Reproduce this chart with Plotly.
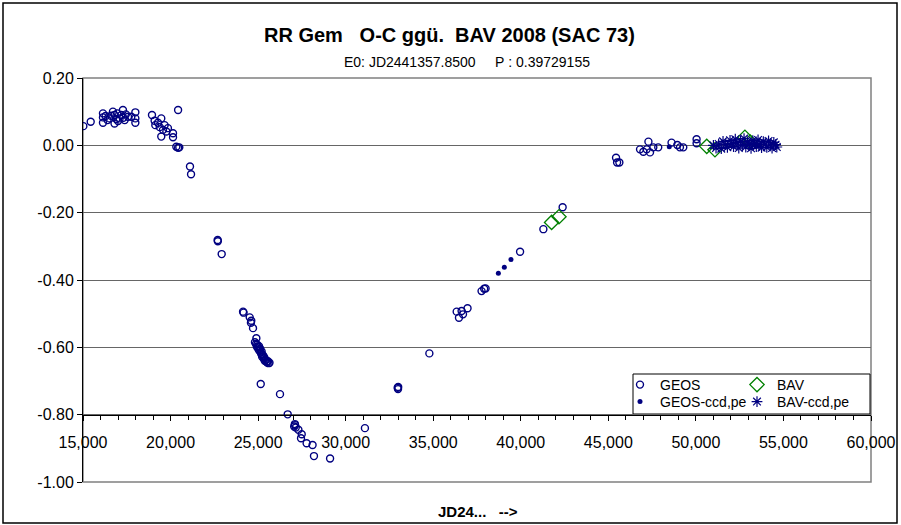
import plotly.graph_objects as go

# ---------------- data ----------------
geos_x = [15020, 15440, 16140, 16140, 16140, 16290, 16400, 16520, 16600, 16710, 16800, 16800,
          16900, 16960, 17000, 17090, 17190, 17280, 17300, 17380, 17450, 17570, 17760, 17990,
          17990, 17990, 18940, 19090, 19130, 19280, 19380, 19470, 19570, 19660, 19760, 19470,
          19850, 20140, 20140, 20430, 20330, 20430, 20500, 21110, 21170,
          22690, 22700, 22920, 24140, 24170, 24520, 24610, 24590, 24710, 24900,
          24820, 24880, 24950, 24930, 25000, 25050, 25020, 25080, 25120, 25150, 25200, 25180,
          25250, 25230, 25300, 25320, 25350, 25400, 25380, 25450, 25480, 25520, 25560, 25600,
          25650, 25150, 26250, 26690, 27110, 27060, 27150, 27100, 27300, 27490, 27450, 27770,
          28110, 28190, 29110, 31100, 32970, 32990, 33000, 34780, 36340, 36470, 36620, 36700,
          36960, 37760, 37910, 37990, 39960, 41290, 42390, 45440, 45500, 45630, 46810, 47000,
          47190, 47290, 47380, 47570, 47850, 48610, 48940, 49090, 49280, 50040, 50040]
geos_y = [0.057, 0.070, 0.095, 0.083, 0.067, 0.087, 0.075, 0.080, 0.088, 0.100, 0.090, 0.065,
          0.078, 0.095, 0.072, 0.080, 0.090, 0.105, 0.082, 0.075, 0.092, 0.085, 0.085, 0.098,
          0.080, 0.067, 0.090, 0.073, 0.060, 0.067, 0.054, 0.080, 0.046, 0.060, 0.041, 0.026,
          0.051, 0.036, 0.024, 0.105, -0.004, -0.007, -0.006, -0.063, -0.086,
          -0.281, -0.285, -0.323, -0.494, -0.497, -0.511, -0.521, -0.527, -0.543, -0.573,
          -0.585, -0.590, -0.592, -0.598, -0.600, -0.597, -0.606, -0.610, -0.604, -0.615, -0.612, -0.620,
          -0.622, -0.628, -0.626, -0.633, -0.630, -0.636, -0.640, -0.638, -0.643, -0.645, -0.641, -0.647,
          -0.646, -0.709, -0.739, -0.799, -0.831, -0.835, -0.838, -0.828, -0.845, -0.858, -0.870, -0.885,
          -0.890, -0.923, -0.930, -0.840, -0.720, -0.724, -0.718, -0.618, -0.494, -0.512, -0.492, -0.502,
          -0.484, -0.433, -0.426, -0.425, -0.316, -0.249, -0.184, -0.037, -0.051, -0.051, -0.012, -0.019,
          -0.012, 0.011, -0.021, -0.006, -0.006, 0.008, 0.001, -0.006, -0.006, 0.018, 0.006]

geos_ccd_x = [38720, 39060, 39440, 48480]
geos_ccd_y = [-0.380, -0.362, -0.339, -0.004]

bav_x = [41760, 42180, 50620, 51090, 52800, 53100]
bav_y = [-0.229, -0.212, -0.003, -0.013, 0.024, 0.010]

bav_ccd_x = [51000, 51150, 51300, 51450, 51550, 51700, 51800, 51950, 52050, 52150, 52250, 52350,
             52450, 52550, 52650, 52750, 52850, 52950, 53050, 53150, 53250, 53350, 53450, 53550,
             53650, 53750, 53850, 53950, 54050, 54150, 54250, 54350, 54450, 54550, 54620]
bav_ccd_y = [0.000, -0.008, 0.004, -0.010, 0.012, 0.002, -0.006, 0.015, 0.005, -0.004, 0.018, 0.008,
             -0.008, 0.012, 0.001, 0.020, -0.005, 0.010, 0.003, -0.009, 0.014, 0.006, -0.004, 0.016,
             0.002, -0.007, 0.011, 0.004, -0.006, 0.013, 0.001, -0.008, 0.009, 0.002, -0.005]

y_ticks = [0.20, 0.00, -0.20, -0.40, -0.60, -0.80, -1.00]
y_tick_labels = ["0.20", "0.00", "-0.20", "-0.40", "-0.60", "-0.80", "-1.00"]
x_ticks = [15000, 20000, 25000, 30000, 35000, 40000, 45000, 50000, 55000, 60000]
x_tick_labels = ["15,000", "20,000", "25,000", "30,000", "35,000", "40,000",
                 "45,000", "50,000", "55,000", "60,000"]

title_text = "RR Gem\u00a0\u00a0\u00a0O-C ggü.\u00a0\u00a0BAV 2008 (SAC 73)"
subtitle_text = "E0: JD2441357.8500\u00a0\u00a0\u00a0\u00a0\u00a0P\u00a0: 0.39729155"
xtitle_text = "JD24...\u00a0\u00a0\u00a0-->"

# ---------------- figure ----------------
NAVY = "#000080"
GREEN = "#008000"
FONT = "Liberation Sans, Arial, sans-serif"

fig = go.Figure()
fig.add_trace(go.Scatter(x=geos_x, y=geos_y, mode="markers", name="GEOS", legend="legend",
                         marker=dict(symbol="circle-open", size=7, color=NAVY, line=dict(width=1.4))))
fig.add_trace(go.Scatter(x=geos_ccd_x, y=geos_ccd_y, mode="markers", name="GEOS-ccd,pe", legend="legend2",
                         marker=dict(symbol="circle", size=5, color=NAVY)))
fig.add_trace(go.Scatter(x=bav_x, y=bav_y, mode="markers", name="BAV", legend="legend3",
                         marker=dict(symbol="diamond-open", size=11, color=GREEN, line=dict(width=1.3))))
fig.add_trace(go.Scatter(x=bav_ccd_x, y=bav_ccd_y, mode="markers", name="BAV-ccd,pe", legend="legend4",
                         marker=dict(symbol="asterisk-open", size=9, color=NAVY, line=dict(width=1.2, color=NAVY))))

L, R, T, B = 83, 30, 78, 43
W, H = 901, 525
pw, ph = W - L - R, H - T - B


def px_x(p):
    return (p - L) / pw


def px_y(p):
    return (H - B - p) / ph


def leg(xp, yc):
    return dict(x=px_x(xp), y=px_y(yc), xanchor="left", yanchor="middle",
                bgcolor="rgba(0,0,0,0)", borderwidth=0, font=dict(size=14, family=FONT),
                itemwidth=30, tracegroupgap=0, orientation="v")


fig.update_layout(
    width=W, height=H,
    margin=dict(l=L, r=R, t=T, b=B, autoexpand=False),
    paper_bgcolor="white", plot_bgcolor="white",
    font=dict(family=FONT, size=16, color="black"),
    showlegend=True,
    legend=leg(620, 385),
    legend2=leg(620, 402),
    legend3=leg(737, 385),
    legend4=leg(737, 402),
    xaxis=dict(range=[15000, 60000], anchor="free", position=(-0.8 + 1.0) / 1.2,
               tickvals=x_ticks, ticktext=x_tick_labels, ticks="outside", ticklen=5,
               tickcolor="black", showline=True, linecolor="black", linewidth=1,
               showgrid=False, zeroline=False, ticklabelstandoff=8,
               tickfont=dict(size=16),
               minor=dict(dtick=1000, tick0=15000, ticks="outside", ticklen=4, tickcolor="black",
                          showgrid=False)),
    yaxis=dict(range=[-1.0, 0.2], tickvals=y_ticks, ticktext=y_tick_labels, ticks="outside",
               ticklen=5, tickcolor="black", showline=True, linecolor="black", linewidth=1,
               showgrid=True, gridcolor="#666666", gridwidth=1, zeroline=False,
               tickfont=dict(size=16)),
    shapes=[
        dict(type="rect", xref="paper", yref="paper", x0=0, y0=0, x1=1, y1=1,
             line=dict(color="#808080", width=1.5), layer="below"),
        dict(type="rect", xref="paper", yref="paper", x0=px_x(633), x1=px_x(870),
             y0=px_y(414), y1=px_y(374), line=dict(color="black", width=1),
             fillcolor="white", layer="below"),
        dict(type="rect", xref="paper", yref="paper", x0=px_x(3), x1=px_x(897),
             y0=px_y(523), y1=px_y(3), line=dict(color="black", width=1.5)),
    ],
    annotations=[
        dict(text="<b>" + title_text + "</b>", xref="paper", yref="paper", x=px_x(449), y=px_y(35),
             xanchor="center", yanchor="middle", showarrow=False, font=dict(size=20, family=FONT)),
        dict(text=subtitle_text, xref="paper", yref="paper", x=px_x(467), y=px_y(62),
             xanchor="center", yanchor="middle", showarrow=False, font=dict(size=14, family=FONT)),
        dict(text="<b>" + xtitle_text + "</b>", xref="paper", yref="paper", x=px_x(478), y=px_y(511),
             xanchor="center", yanchor="middle", showarrow=False, font=dict(size=15, family=FONT)),
    ],
)

fig.write_html("out.html", config={"displayModeBar": False},
               post_script="document.body.style.margin='0';document.body.style.padding='0';")
